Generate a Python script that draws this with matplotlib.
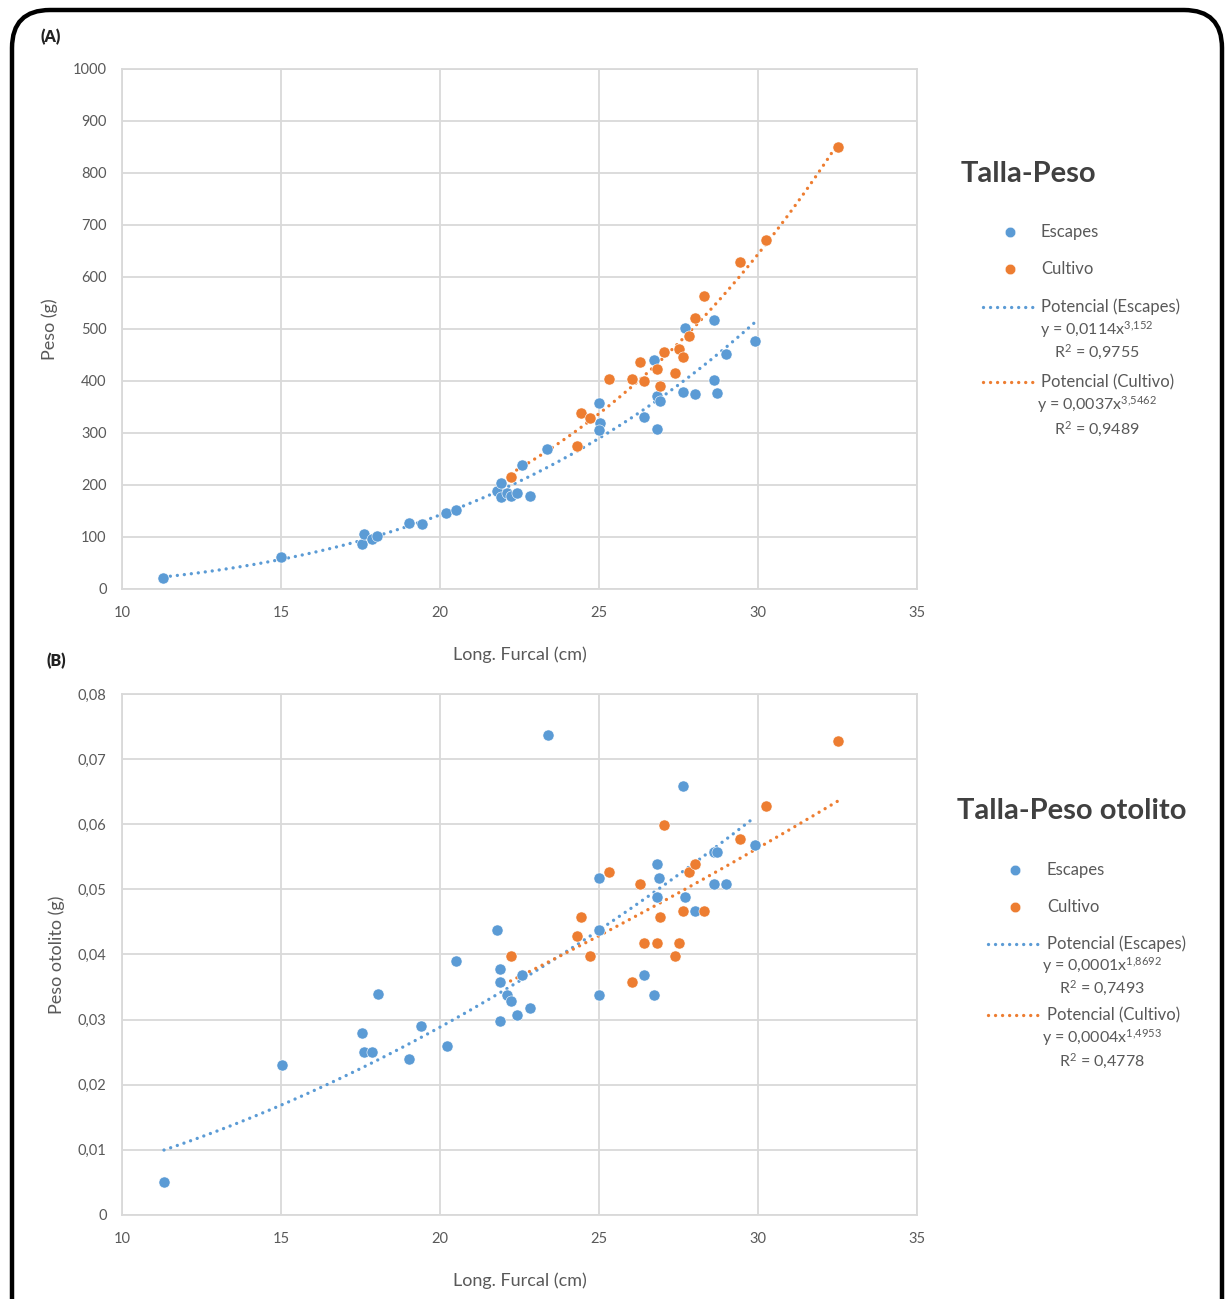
import numpy as np
import matplotlib
matplotlib.use("Agg")
from matplotlib import pyplot as plt
from matplotlib.lines import Line2D
from matplotlib.patches import FancyBboxPatch
from matplotlib.ticker import FuncFormatter, MultipleLocator
from matplotlib.transforms import IdentityTransform

plt.rcParams['font.family'] = ['Lato', 'DejaVu Sans']
plt.rcParams['mathtext.default'] = 'regular'

AZUL = '#5B9BD5'
NARANJA = '#ED7D31'
GRIS = '#595959'
REJILLA = '#D9D9D9'

# (A) Talla-Peso
esc_talla_a = [11.3, 15.0, 17.54, 17.62, 17.85, 18.02, 19.03, 19.43, 20.19, 20.5,
               21.8, 21.92, 21.92, 22.1, 22.23, 22.41, 22.57, 22.83, 23.38, 25.01,
               25.04, 25.01, 26.42, 26.72, 26.82, 26.82, 26.92, 27.64, 27.71, 28.02,
               28.63, 28.63, 28.70, 29.0, 29.92]
esc_peso = [22, 61, 86, 105, 96, 102, 127, 125, 147, 152,
            188, 203, 177, 185, 179, 184, 238, 179, 270, 357,
            320, 306, 331, 440, 308, 371, 362, 379, 501, 374,
            517, 402, 376, 451, 477]

cul_talla = [22.22, 24.3, 24.43, 24.72, 25.32, 26.04, 26.42, 26.29, 26.84, 26.91,
             27.04, 27.40, 27.53, 27.64, 27.83, 28.02, 28.31, 29.43, 30.25, 32.52]
cul_peso = [215, 274, 339, 329, 404, 404, 400, 437, 423, 390,
            456, 416, 461, 446, 487, 522, 564, 629, 671, 850]

# (B) Talla-Peso otolito
esc_talla_b = [11.32, 15.03, 17.55, 17.6, 17.85, 18.05, 19.03, 19.4, 20.21, 20.5,
               21.8, 21.9, 21.9, 21.9, 22.1, 22.22, 22.41, 22.57, 22.83, 23.4,
               25.01, 25.01, 25.01, 26.41, 26.72, 26.82, 26.82, 26.9, 27.63, 27.7,
               28.02, 28.62, 28.62, 28.7, 29.0, 29.91]
esc_otolito = [0.005, 0.023, 0.028, 0.025, 0.025, 0.034, 0.024, 0.029, 0.026, 0.039,
               0.0437, 0.0377, 0.0358, 0.0298, 0.0338, 0.0329, 0.0307, 0.0369, 0.0317, 0.0737,
               0.0517, 0.0437, 0.0338, 0.0368, 0.0338, 0.0539, 0.0488, 0.0518, 0.0658, 0.0488,
               0.0467, 0.0508, 0.0558, 0.0558, 0.0508, 0.0568]

cul_otolito = [0.0398, 0.0428, 0.0458, 0.0398, 0.0527, 0.0358, 0.0418, 0.0508, 0.0418, 0.0458,
               0.0598, 0.0398, 0.0418, 0.0467, 0.0527, 0.0539, 0.0467, 0.0577, 0.0628, 0.0728]

paneles = [
    dict(rect=[0.0992, 0.5466, 0.6463, 0.4003], ylim=(0, 1000), paso=100, decimales=0,
         ylabel='Peso (g)', ylab_x=-0.0906, letra='(A)', letra_xy=(40, 37),
         titulo='Talla-Peso', titulo_xy=(961, 174),
         series=[(esc_talla_a, esc_peso), (cul_talla, cul_peso)],
         leyenda=dict(punto_x=1010, texto_x=1041, filas=[232, 269, 307, 330, 352, 382, 405, 429],
                      linea=(983, 1037), centro=1097,
                      ecuaciones=['y = 0,0114x$^{3{,}152}$', 'R$^{2}$ = 0,9755',
                                  'y = 0,0037x$^{3{,}5462}$', 'R$^{2}$ = 0,9489'])),
    dict(rect=[0.0992, 0.0647, 0.6463, 0.4011], ylim=(0, 0.08), paso=0.01, decimales=2,
         ylabel='Peso otolito (g)', ylab_x=-0.0818, letra='(B)', letra_xy=(47, 661),
         titulo='Talla-Peso otolito', titulo_xy=(957, 811),
         series=[(esc_talla_b, esc_otolito), (cul_talla, cul_otolito)],
         leyenda=dict(punto_x=1015, texto_x=1047, filas=[870, 907, 944, 966, 988, 1015, 1038, 1061],
                      linea=(988, 1043), centro=1102,
                      ecuaciones=['y = 0,0001x$^{1{,}8692}$', 'R$^{2}$ = 0,7493',
                                  'y = 0,0004x$^{1{,}4953}$', 'R$^{2}$ = 0,4778'])),
]

W, H = 1230, 1299
fig = plt.figure(figsize=(W / 100, H / 100), dpi=100)


def fx(px):
    return px / W


def fy(py):
    return 1 - py / H


PUNTOS = (0, (0.01, 2.1))

for p in paneles:
    ax = fig.add_axes(p['rect'])
    ax.set_xlim(10, 35)
    ax.set_ylim(*p['ylim'])
    ax.xaxis.set_major_locator(MultipleLocator(5))
    ax.yaxis.set_major_locator(MultipleLocator(p['paso']))
    dec = p['decimales']
    ax.yaxis.set_major_formatter(FuncFormatter(
        lambda v, pos, d=dec: '0' if abs(v) < 1e-9 else (f'{v:.{d}f}'.replace('.', ','))))
    ax.grid(True, color=REJILLA, lw=1.3)
    ax.set_axisbelow(True)
    for s in ax.spines.values():
        s.set_color(REJILLA)
        s.set_linewidth(1.3)
    ax.tick_params(length=0, labelcolor=GRIS, labelsize=10.5)
    ax.tick_params(axis='x', pad=12)
    ax.tick_params(axis='y', pad=11)
    ax.set_xlabel('Long. Furcal (cm)', color=GRIS, fontsize=13)
    ax.xaxis.set_label_coords(0.5, -0.127)
    ax.xaxis.label.set_va('center')
    ax.set_ylabel(p['ylabel'], color=GRIS, fontsize=13)
    ax.yaxis.set_label_coords(p['ylab_x'], 0.5)
    ax.yaxis.label.set_va('center')

    for (x, y), color in zip(p['series'], [AZUL, NARANJA]):
        x = np.asarray(x)
        y = np.asarray(y)
        # ajuste potencial y = a x^b por regresion log-log
        b, loga = np.polyfit(np.log(x), np.log(y), 1)
        xs = np.linspace(x.min(), x.max(), 200)
        ax.plot(xs, np.exp(loga) * xs ** b, color=color, lw=2.4,
                ls=PUNTOS, dash_capstyle='round', zorder=2)
        ax.scatter(x, y, s=64, color=color, edgecolors='white', linewidths=0.4, zorder=3)

    fig.text(fx(p['letra_xy'][0]), fy(p['letra_xy'][1]), p['letra'], fontsize=11.5,
             fontweight='heavy', color='#222222', va='center')
    fig.text(fx(p['titulo_xy'][0]), fy(p['titulo_xy'][1]), p['titulo'], fontsize=21,
             fontweight='bold', color='#404040', va='center')

    lg = p['leyenda']
    f = lg['filas']
    for fila, color, nombre in [(f[0], AZUL, 'Escapes'), (f[1], NARANJA, 'Cultivo')]:
        fig.add_artist(Line2D([fx(lg['punto_x'])], [fy(fila)], marker='o', ms=7.5,
                              color=color, mec='white', mew=0.3, ls='none'))
        fig.text(fx(lg['texto_x']), fy(fila), nombre, fontsize=12, color=GRIS, va='center')
    for fila, color, nombre in [(f[2], AZUL, 'Potencial (Escapes)'),
                                (f[5], NARANJA, 'Potencial (Cultivo)')]:
        fig.add_artist(Line2D([fx(lg['linea'][0]), fx(lg['linea'][1])], [fy(fila)] * 2,
                              color=color, lw=2.4, ls=PUNTOS, dash_capstyle='round'))
        fig.text(fx(lg['texto_x']), fy(fila), nombre, fontsize=12, color=GRIS, va='center')
    for fila, txt in zip([f[3], f[4], f[6], f[7]], lg['ecuaciones']):
        fig.text(fx(lg['centro']), fy(fila), txt, fontsize=11.5, color=GRIS,
                 va='center', ha='center')

# marco redondeado
marco = FancyBboxPatch((12, -60), 1210, 1349, boxstyle='round,pad=0,rounding_size=38',
                       transform=IdentityTransform(), fill=False, ec='black', lw=3.2)
fig.add_artist(marco)

fig.savefig('out.png', dpi=100)
